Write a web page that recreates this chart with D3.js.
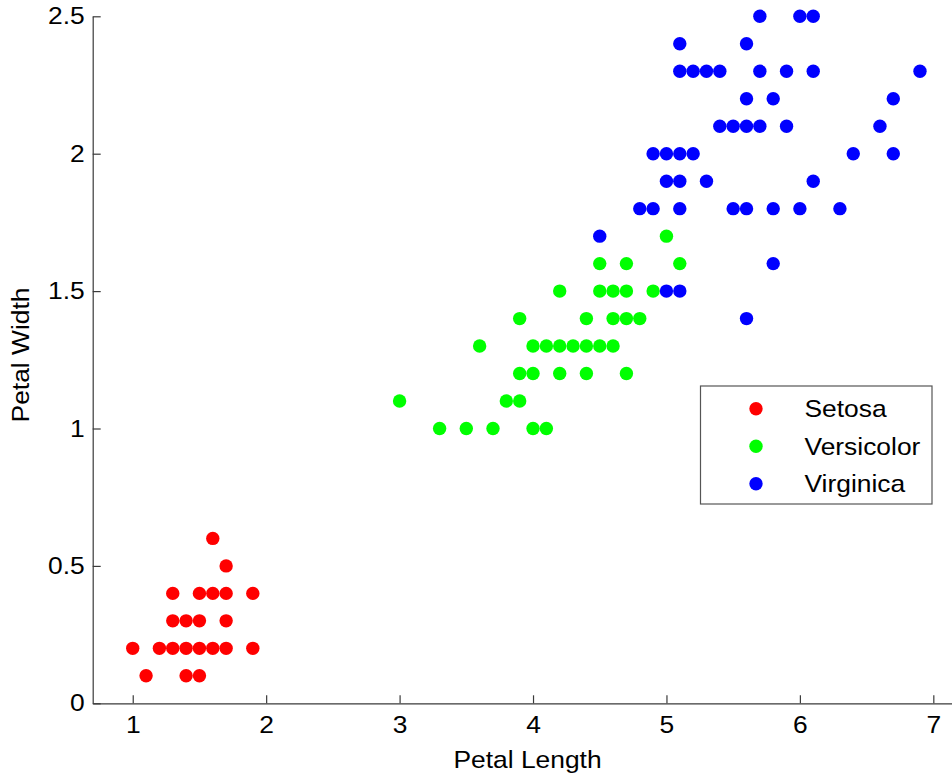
<!DOCTYPE html>
<html>
<head>
<meta charset="utf-8">
<script src="https://cdn.jsdelivr.net/npm/d3@7"></script>
<style>
  body { margin: 0; background: #fff; }
  svg { display: block; font-family: "Liberation Sans", Arial, sans-serif; }
</style>
</head>
<body>
<svg id="chart" width="952" height="775"></svg>
<script>
// distinct points: [petal length, petal width]
const setosa = [
  [1.6, 0.6], [1.7, 0.5],
  [1.3, 0.4], [1.5, 0.4], [1.6, 0.4], [1.7, 0.4], [1.9, 0.4],
  [1.3, 0.3], [1.4, 0.3], [1.5, 0.3], [1.7, 0.3],
  [1.0, 0.2], [1.2, 0.2], [1.3, 0.2], [1.4, 0.2], [1.5, 0.2], [1.6, 0.2], [1.7, 0.2], [1.9, 0.2],
  [1.1, 0.1], [1.4, 0.1], [1.5, 0.1]
];
const versicolor = [
  [5.0, 1.7],
  [4.5, 1.6], [4.7, 1.6], [5.1, 1.6],
  [4.2, 1.5], [4.5, 1.5], [4.6, 1.5], [4.7, 1.5], [4.9, 1.5],
  [3.9, 1.4], [4.4, 1.4], [4.6, 1.4], [4.7, 1.4], [4.8, 1.4],
  [3.6, 1.3], [4.0, 1.3], [4.1, 1.3], [4.2, 1.3], [4.3, 1.3], [4.4, 1.3], [4.5, 1.3], [4.6, 1.3],
  [3.9, 1.2], [4.0, 1.2], [4.2, 1.2], [4.4, 1.2], [4.7, 1.2],
  [3.0, 1.1], [3.8, 1.1], [3.9, 1.1],
  [3.3, 1.0], [3.5, 1.0], [3.7, 1.0], [4.0, 1.0], [4.1, 1.0]
];
const virginica = [
  [5.7, 2.5], [6.0, 2.5], [6.1, 2.5],
  [5.1, 2.4], [5.6, 2.4],
  [5.1, 2.3], [5.2, 2.3], [5.3, 2.3], [5.4, 2.3], [5.7, 2.3], [5.9, 2.3], [6.1, 2.3], [6.9, 2.3],
  [5.6, 2.2], [5.8, 2.2], [6.7, 2.2],
  [5.4, 2.1], [5.5, 2.1], [5.6, 2.1], [5.7, 2.1], [5.9, 2.1], [6.6, 2.1],
  [4.9, 2.0], [5.0, 2.0], [5.1, 2.0], [5.2, 2.0], [6.4, 2.0], [6.7, 2.0],
  [5.0, 1.9], [5.1, 1.9], [5.3, 1.9], [6.1, 1.9],
  [4.8, 1.8], [4.9, 1.8], [5.1, 1.8], [5.5, 1.8], [5.6, 1.8], [5.8, 1.8], [6.0, 1.8], [6.3, 1.8],
  [4.5, 1.7], [5.8, 1.6], [5.0, 1.5], [5.1, 1.5], [5.6, 1.4]
];
const speciesNames = ["Setosa", "Versicolor", "Virginica"];
const speciesColors = ["#ff0000", "#00ff00", "#0000ff"];
const xTicks = [1, 2, 3, 4, 5, 6, 7];
const yTicks = [0, 0.5, 1, 1.5, 2, 2.5];

const svg = d3.select("#chart");
const axisColor = "#3a3a3a";
const fontSize = "24px";
const stretch = 1.1; // reference glyphs are a bit wider than Arial

// widen a text element horizontally, keeping its anchor point fixed
function widen(sel, extra) {
  sel.each(function () {
    let t = d3.select(this);
    let tx = +t.attr("x") || 0, ty = +t.attr("y") || 0;
    t.attr("x", 0).attr("y", 0)
      .attr("transform", "translate(" + tx + "," + ty + ")" + (extra || "") + " scale(" + stretch + ",1)");
  });
}

let x = d3.scaleLinear().domain([0.7, 7.14]).range([92.7, 952]);
let y = d3.scaleLinear().domain([0, 2.5]).range([703.3, 16.3]);

// axes, MATLAB style: ticks pointing in
let xAxis = d3.axisBottom(x).tickValues(xTicks).tickFormat(d3.format("d"))
  .tickSizeInner(-8).tickSizeOuter(0).tickPadding(13);
let yAxis = d3.axisLeft(y).tickValues(yTicks).tickFormat(d => d === 0 ? "0" : d3.format("")(d))
  .tickSizeInner(-8).tickSizeOuter(0).tickPadding(8);

let gx = svg.append("g").attr("transform", "translate(0," + y(0) + ")").call(xAxis);
let gy = svg.append("g").attr("transform", "translate(" + x(0.7) + ",0)").call(yAxis);

[gx, gy].forEach(g => {
  g.select(".domain").attr("stroke", axisColor).attr("stroke-width", 1.2);
  g.selectAll(".tick line").attr("stroke", axisColor).attr("stroke-width", 1.2);
  g.selectAll(".tick text").attr("fill", "#000").style("font-size", fontSize)
    .style("font-family", "'Liberation Sans', Arial, sans-serif")
    .call(widen);
});

// points
const groups = [setosa, versicolor, virginica];
groups.forEach((pts, i) => {
  svg.append("g").selectAll("circle")
    .data(pts)
    .join("circle")
    .attr("cx", d => x(d[0]))
    .attr("cy", d => y(d[1]))
    .attr("r", 6.7)
    .attr("fill", speciesColors[i]);
});

// axis labels
svg.append("text")
  .attr("x", 527.5).attr("y", 767.5)
  .attr("text-anchor", "middle")
  .style("font-size", fontSize)
  .text("Petal Length")
  .call(widen);

svg.append("text")
  .attr("x", 28.5).attr("y", 355)
  .attr("text-anchor", "middle")
  .style("font-size", fontSize)
  .text("Petal Width")
  .call(widen, " rotate(-90)");

// legend
let legend = svg.append("g").attr("transform", "translate(700.5,386)");
legend.append("rect")
  .attr("width", 231.5).attr("height", 118)
  .attr("fill", "#fff").attr("stroke", "#555").attr("stroke-width", 1.2);

let rows = legend.selectAll(".row")
  .data(speciesNames)
  .join("g")
  .attr("class", "row")
  .attr("transform", (d, i) => "translate(0," + (22.7 + i * 37.5) + ")");

rows.append("circle")
  .attr("cx", 55.5).attr("cy", 0).attr("r", 6.7)
  .attr("fill", (d, i) => speciesColors[i]);

rows.append("text")
  .attr("x", 104).attr("y", 0).attr("dy", "0.35em")
  .style("font-size", fontSize)
  .text(d => d)
  .call(widen);
</script>
</body>
</html>
